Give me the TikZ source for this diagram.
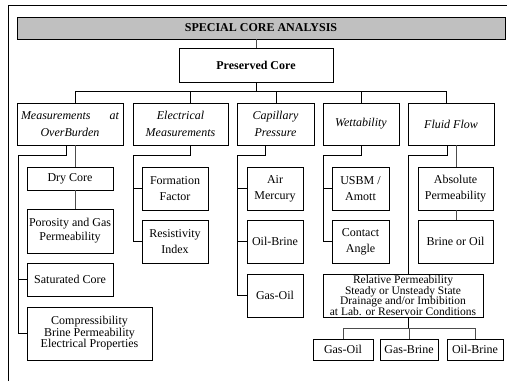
\documentclass[tikz,border=0pt]{standalone}
\usepackage{fontspec}
\setmainfont{Liberation Serif}
\usetikzlibrary{shadows}
\definecolor{tgray}{RGB}{192,192,192}
\begin{document}
\begin{tikzpicture}[x=1pt,y=-1pt,
  box/.style={draw, fill=white, line width=0.6pt, inner sep=0pt, align=center,
    drop shadow={shadow xshift=0.9pt, shadow yshift=-0.9pt, fill=black, opacity=1},
    font=\fontsize{12}{14}\selectfont},
  cat/.style={box, minimum height=42pt, font=\fontsize{12}{17}\selectfont\itshape},
  sub/.style={box, minimum height=43pt},
  bus/.style={line width=1pt, black},
  thin/.style={line width=0.6pt, black!70}]
\useasboundingbox (0,0) rectangle (507,381);
% outer frame
\coordinate (fa) at (8,381); \coordinate (fb) at (8,5); \coordinate (fc) at (507,5);
\draw[line width=0.8pt] (fa) -- (fb) -- (fc);
% title and root
\node[box, fill=tgray, minimum width=488pt, minimum height=22pt, font=\fontsize{12}{14}\selectfont\bfseries] (title) at (261,28) {SPECIAL CORE ANALYSIS};
\node[box, minimum width=154pt, minimum height=34pt, font=\fontsize{12}{14}\selectfont\bfseries] (pc) at (256,65) {Preserved Core};
% categories
\node[cat, minimum width=106pt, text width=98pt] (c1) at (70,124) {Measurements\hfill at\\OverBurden};
\node[cat, minimum width=95pt] (c2) at (180.5,124) {Electrical\\Measurements};
\node[cat, minimum width=77pt] (c3) at (275.5,124) {Capillary\\Pressure};
\node[cat, minimum width=76pt] (c4) at (361,124) {Wettability};
\node[cat, minimum width=86pt] (c5) at (451,124) {Fluid Flow};
% overburden column
\node[box, minimum width=86pt, minimum height=23pt] (dry) at (70,178.5) {Dry Core};
\node[box, minimum width=86pt, minimum height=44pt] (por) at (70,231) {Porosity and Gas\\Permeability};
\node[box, minimum width=86pt, minimum height=33pt] (sat) at (70,279.5) {Saturated Core};
\node[box, minimum width=125pt, minimum height=53pt, font=\fontsize{12}{11.5}\selectfont] (comp) at (89.5,333.5) {Compressibility\\Brine Permeability\\Electrical Properties};
% electrical
\node[sub, minimum width=66pt, font=\fontsize{12}{16}\selectfont] (ff) at (175,188.5) {Formation\\Factor};
\node[sub, minimum width=66pt, font=\fontsize{12}{16}\selectfont] (ri) at (175,241.5) {Resistivity\\Index};
% capillary
\node[sub, minimum width=56pt, font=\fontsize{12}{16}\selectfont] (am) at (275,188.5) {Air\\Mercury};
\node[sub, minimum width=56pt] (ob) at (275,241.5) {Oil-Brine};
\node[sub, minimum width=56pt] (go) at (275,295.5) {Gas-Oil};
% wettability
\node[sub, minimum width=57pt, font=\fontsize{12}{16}\selectfont] (us) at (360.5,188.5) {USBM /\\Amott};
\node[sub, minimum width=57pt, font=\fontsize{12}{16}\selectfont] (ca) at (360.5,241.5) {Contact\\Angle};
% fluid flow
\node[sub, minimum width=75pt, font=\fontsize{12}{16}\selectfont] (ap) at (455.5,188.5) {Absolute\\Permeability};
\node[sub, minimum width=75pt] (bo) at (455.5,241.5) {Brine or Oil};
\node[sub, minimum width=160pt, font=\fontsize{11.5}{10.5}\selectfont] (rp) at (403,295.5) {Relative Permeability\\Steady or Unsteady State\\Drainage and/or Imbibition\\at Lab. or Reservoir Conditions};
\node[box, minimum width=60pt, minimum height=21pt] (g1) at (343,349.5) {Gas-Oil};
\node[box, minimum width=58pt, minimum height=21pt] (g2) at (409,349.5) {Gas-Brine};
\node[box, minimum width=56pt, minimum height=21pt] (g3) at (475,349.5) {Oil-Brine};
% top connectors
\draw[thin] (pc.north |- title.south) -- (pc.north);
\coordinate (tl) at (75,91); \coordinate (tr) at (446,91);
\coordinate (k2) at (190,91); \coordinate (k3) at (276,91); \coordinate (k4) at (361,91);
\draw[bus] (pc.south) -- (pc.south |- tl);
\draw[bus] (tl) -- (tr);
\draw[bus] (tl) -- (tl |- c1.north);
\draw[bus] (k2) -- (k2 |- c2.north);
\draw[bus] (k3) -- (k3 |- c3.north);
\draw[bus] (k4) -- (k4 |- c4.north);
\draw[bus] (tr) -- (tr |- c5.north);
% overburden connectors
\coordinate (m1) at (66,155); \coordinate (l1) at (18,155); \coordinate (n1) at (75,155);
\draw[bus] (m1 |- c1.south) |- (l1) |- (comp.west);
\draw[bus] (l1 |- sat.west) -- (sat.west);
\draw[thin] (n1 |- c1.south) -- (n1 |- dry.north);
\draw[thin] (n1 |- dry.south) -- (n1 |- por.north);
% electrical connectors
\coordinate (m2) at (190,155); \coordinate (l2) at (133,155);
\draw[bus] (m2 |- c2.south) |- (l2) |- (ri.west);
\draw[bus] (l2 |- ff.west) -- (ff.west);
% capillary connectors
\coordinate (m3) at (265,155); \coordinate (l3) at (237,155);
\draw[bus] (m3 |- c3.south) |- (l3) |- (go.west);
\draw[bus] (l3 |- am.west) -- (am.west);
\draw[bus] (l3 |- ob.west) -- (ob.west);
% wettability connectors
\coordinate (m4) at (361,155); \coordinate (l4) at (323,155);
\draw[bus] (m4 |- c4.south) |- (l4) |- (ca.west);
\draw[bus] (l4 |- us.west) -- (us.west);
% fluid flow connectors
\coordinate (m5) at (447,155); \coordinate (l5) at (408,155); \coordinate (n5) at (456,155);
\draw[bus] (m5 |- c5.south) |- (l5) -- (l5 |- rp.north);
\draw[thin] (n5 |- c5.south) -- (n5 |- ap.north);
\draw[thin] (n5 |- ap.south) -- (n5 |- bo.north);
% relative permeability children
\coordinate (r1) at (408,328);
\draw[bus] (r1 |- rp.south) -- (r1);
\draw[thin] (g1.north |- r1) -- (g3.north |- r1);
\draw[thin] (g1.north |- r1) -- (g1.north);
\draw[thin] (g2.north |- r1) -- (g2.north);
\draw[thin] (g3.north |- r1) -- (g3.north);
\end{tikzpicture}
\end{document}
